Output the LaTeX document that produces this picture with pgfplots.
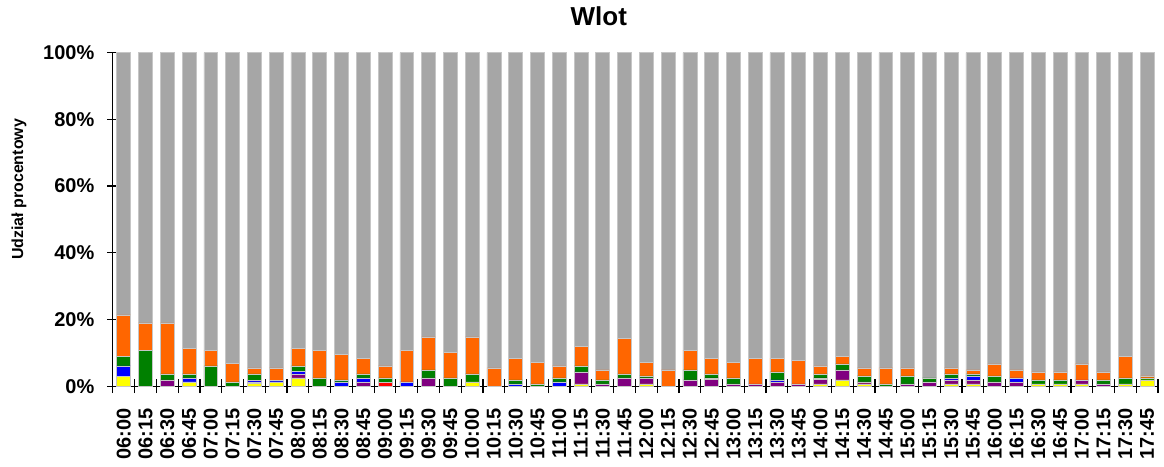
\documentclass[border=0pt]{standalone}
\usepackage{pgfplots}
\pgfplotsset{compat=1.18}
\usepackage{pgfplotstable}
\usepackage{fontspec}
\setmainfont{Liberation Sans}
\definecolor{cy}{RGB}{255,255,0}
\definecolor{cr}{RGB}{255,0,0}
\definecolor{cp}{RGB}{128,0,128}
\definecolor{cb}{RGB}{0,0,255}
\definecolor{ck}{RGB}{0,0,0}
\definecolor{cg}{RGB}{0,128,0}
\definecolor{co}{RGB}{255,102,0}
\definecolor{cgr}{RGB}{166,166,166}
\pgfplotstableread{
i y r p b k g o gr
0 3.0 0 0 3.1 0 2.9 12.4 78.6
1 0 0 0 0 0 10.8 8.2 81.0
2 0 0 1.9 0 0 1.8 15.3 81.0
3 1.3 0 0 1.2 0 1.2 7.7 88.6
4 0 0 0 0 0 6.1 4.7 89.2
5 0 0 0 0 0 1.3 5.5 93.2
6 0.8 0 0.5 0.5 0 1.9 1.8 94.5
7 1.3 0 0 0.5 0 0 3.7 94.5
8 2.5 0 1.2 0.7 0 1.7 5.3 88.6
9 0 0 0 0 0 2.5 8.3 89.2
10 0 0 0 1.3 0 0.6 7.7 90.4
11 0 0 1.3 1.2 0 1.2 4.7 91.6
12 0 1.3 0 0 0 1.2 3.6 93.9
13 0 0 0 1.3 0 0 9.5 89.2
14 0 0 2.5 0 0 2.4 9.9 85.2
15 0 0 0 0 0 2.5 7.7 89.8
16 1.3 0 0 0 0 2.4 11.1 85.2
17 0 0 0 0 0 0 5.5 94.5
18 0 0 0 0.7 0 1.2 6.5 91.6
19 0 0 0 0 0 0.7 6.5 92.8
20 0 0 0 1.3 0 1.2 3.6 93.9
21 0.7 0 3.6 0 0 1.8 5.9 88.0
22 0 0 0.7 0 0 1.2 3.0 95.1
23 0 0 2.5 0 0 1.2 10.6 85.7
24 0.7 0 1.8 0 0 0.6 4.1 92.8
25 0 0 0 0 0 0 4.9 95.1
26 0 0 1.9 0 0 3.0 5.9 89.2
27 0 0 2.1 0 0.4 1.2 4.7 91.6
28 0 0 0.7 0 0 1.8 4.7 92.8
29 0 0 0.7 0 0 0 7.7 91.6
30 0 0 1.3 0.6 0 2.4 4.1 91.6
31 0 0 0.7 0 0 0 7.1 92.2
32 0.7 0 1.4 0 0.4 1.2 2.4 93.9
33 1.9 0 3.0 0 0 1.8 2.3 91.0
34 0.7 0 0.6 0 0 1.8 2.4 94.5
35 0 0 0 0 0 0.7 4.8 94.5
36 0 0 0.7 0 0 2.4 2.4 94.5
37 0 0 1.3 0 0 1.2 0 97.5
38 0.7 0 1.2 0.6 0 1.2 1.8 94.5
39 0.7 0 1.2 1.2 0 0.6 1.2 95.1
40 0 0 1.3 0 0 1.8 3.6 93.3
41 0 0 1.3 1.2 0 0 2.4 95.1
42 0.7 0 0 0 0 1.2 2.4 95.7
43 0.7 0 0 0 0 1.2 2.4 95.7
44 0.7 0 1.2 0 0 0 4.8 93.3
45 0 0 0.7 0 0 1.2 2.4 95.7
46 0.7 0 0 0 0 1.8 6.5 91.0
47 1.9 0 0 0 0 0.6 0.6 96.9
}\data
\begin{document}
\begin{tikzpicture}
\begin{axis}[
  scale only axis,
  width=523.5pt, height=167pt,
  ybar stacked, bar width=0.64,
  xmin=-0.5, xmax=47.5, ymin=0, ymax=100,
  axis x line*=bottom, axis y line*=left,
  axis line style={-, black, line width=0.6pt},
  xtick={0,...,47},
  xticklabels={06:00,06:15,06:30,06:45,07:00,07:15,07:30,07:45,08:00,08:15,08:30,08:45,09:00,09:15,09:30,09:45,10:00,10:15,10:30,10:45,11:00,11:15,11:30,11:45,12:00,12:15,12:30,12:45,13:00,13:15,13:30,13:45,14:00,14:15,14:30,14:45,15:00,15:15,15:30,15:45,16:00,16:15,16:30,16:45,17:00,17:15,17:30,17:45},
  major x tick style={draw=none},
  minor xtick={-0.5,0.5,...,47.5},
  minor x tick style={black, line width=0.6pt},
  minor tick length=7pt,
  ytick={0,20,...,100},
  major tick length=5.5pt,
  tick align=center,
  y tick style={black, line width=0.6pt},
  /pgf/number format/assume math mode=true,
  yticklabel={\pgfmathprintnumber{\tick}\%},
  ticklabel style={font=\bfseries\fontsize{10}{12}\selectfont},
  xticklabel style={yshift=-5pt, rotate=90, anchor=east},
  yticklabel style={xshift=-3pt},
  ylabel={Udział procentowy},
  ylabel style={font=\bfseries\fontsize{8}{10}\selectfont, at={(axis description cs:-0.0898,0.59)}, anchor=center},
  title={Wlot},
  title style={font=\bfseries\fontsize{13}{15}\selectfont, at={(axis description cs:0.465,1)}, anchor=south, yshift=4pt},
]
\addplot[fill=cy, draw=gray!45, line width=0.3pt] table[x=i,y=y]{\data};
\addplot[fill=cr, draw=gray!45, line width=0.3pt] table[x=i,y=r]{\data};
\addplot[fill=cp, draw=gray!45, line width=0.3pt] table[x=i,y=p]{\data};
\addplot[fill=cb, draw=gray!45, line width=0.3pt] table[x=i,y=b]{\data};
\addplot[fill=ck, draw=gray!45, line width=0.3pt] table[x=i,y=k]{\data};
\addplot[fill=cg, draw=gray!45, line width=0.3pt] table[x=i,y=g]{\data};
\addplot[fill=co, draw=gray!45, line width=0.3pt] table[x=i,y=o]{\data};
\addplot[fill=cgr, draw=gray!45, line width=0.3pt] table[x=i,y=gr]{\data};
\coordinate (ll) at (rel axis cs:0,0);
\coordinate (ur) at (rel axis cs:1,1);
\end{axis}
\path (ll) ++(-56.5pt,-35.5pt);
\path (ur) ++(3pt,26pt);
\end{tikzpicture}
\end{document}
